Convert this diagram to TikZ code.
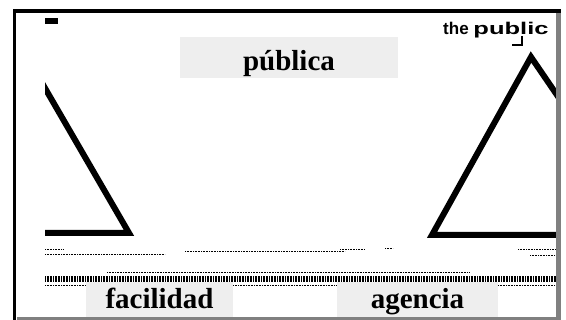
\documentclass[tikz,border=0pt]{standalone}
\usepackage{fontspec}
\setmainfont{Liberation Serif}
\newfontfamily\sansfam{Liberation Sans}
\usepackage{tikz}
\definecolor{grisclaro}{HTML}{EEEEEE}
\definecolor{grisbordo}{HTML}{808080}
\tikzset{
	etiqueta/.style={fill=grisclaro, inner xsep=0pt, inner ysep=0pt, font=\bfseries\fontsize{29}{29}\selectfont},
	lado/.style={line width=6pt, line join=miter},
	puntos/.style={line width=1pt, dash pattern=on 0.7pt off 0.9pt},
	trama/.style={line width=6pt, dash pattern=on 0.8pt off 0.8pt}
}

\begin{document}
\begin{tikzpicture}[x=1pt,y=-1pt]
		\useasboundingbox (0,0) rectangle (566,320);
		%\draw [help lines] (0,0) grid (566,320);
		\begin{scope}
		\clip (45,13) rectangle (556,317);
		%Triangolo sinistro
		\draw [lado] (20,45) -- (129,233) -- (30,233);
		%Triangolo destro
		\draw [lado] (600,235) -- (432,235) -- (531,57) -- (600,158);
		%Segni
		\fill (45,18) rectangle (58,24);
		\draw [line width=2.5pt] (522,36) -- (522,45) -- (512,45);
		\node [anchor=base west, inner sep=0pt, font=\sansfam\bfseries\fontsize{17}{17}\selectfont] (publico) at (443,35) {the \scalebox{1.5}[1]{public}};
		%Righe punteggiate
		\draw [puntos] (45,250) -- (63,250);
		\draw [puntos] (45,255) -- (165,255);
		\draw [puntos] (185,252) -- (345,252);
		\draw [puntos] (340,250) -- (365,250);
		\draw [puntos] (385,249) -- (393,249);
		\draw [puntos] (518,250) -- (556,250);
		\draw [puntos] (530,256) -- (556,256);
		\draw [puntos] (107,273) -- (470,273);
		\draw [trama] (45,279.5) -- (556,279.5);
		\draw [puntos] (45,286) -- (90,286);
		\draw [puntos] (230,286) -- (340,286);
		\draw [puntos] (498,286) -- (556,286);
		\end{scope}
		%Etichette
		\node [etiqueta, minimum width=218pt, text height=33.4pt, text depth=7.6pt] (publica) at (289,57.8) {pública};
		\node [etiqueta, minimum width=147pt, text height=27pt, text depth=11pt] (facilidad) at (159.5,301) {facilidad};
		\node [etiqueta, minimum width=161pt, text height=27pt, text depth=11pt] (agencia) at (417.5,301) {agencia};
		%Cornice
		\draw [line width=3.5pt] (13,11) -- (561,11);
		\draw [line width=3pt] (14.5,9.5) -- (14.5,320);
		\draw [grisbordo, line width=5pt] (558,13) -- (558,320);
		\draw [grisbordo, line width=3.5pt] (17,318.5) -- (560.5,318.5);
	\end{tikzpicture}
\end{document}
